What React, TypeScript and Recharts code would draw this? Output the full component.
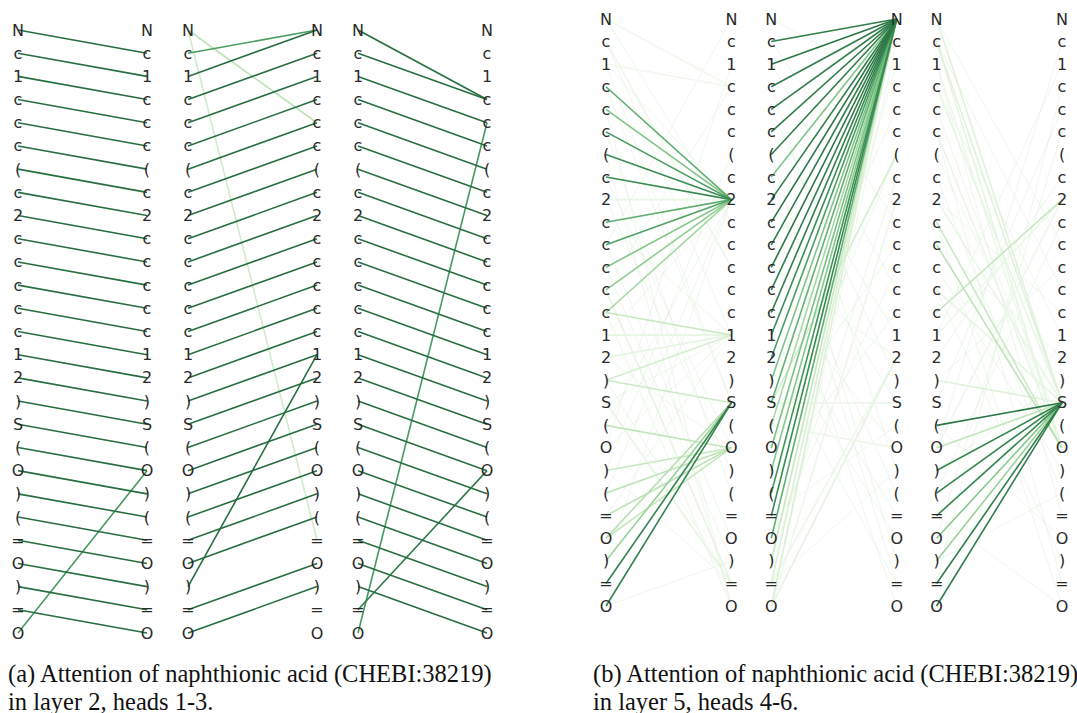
import React from 'react';
import { ScatterChart, Scatter, XAxis, YAxis, ReferenceLine } from 'recharts';

const tokens = ['N','c','1','c','c','c','(','c','2','c','c','c','c','c','1','2',')','S','(','O',')','(','=','O',')','=','O'];

// [fromIndex (left), toIndex (right), weight]
const head1Edges: number[][] = [
  [0,1,1],[1,2,1],[2,3,1],[3,4,1],[4,5,1],[5,6,1],[6,7,1],[7,8,1],[8,9,1],[9,10,1],[10,11,1],[11,12,1],[12,13,1],
  [13,14,1],[14,15,1],[15,16,1],[16,17,1],[17,18,1],[18,19,1],[19,20,1],[20,21,1],[21,22,1],[22,23,1],[23,24,1],
  [24,25,1],[25,26,1],[26,19,0.72],
];
const head2Edges: number[][] = [
  [0,4,0.3],[0,22,0.22],[1,0,0.7],[2,0,1],[3,1,1],[4,2,1],[5,3,1],[6,4,1],[7,5,1],[8,6,1],[9,7,1],[10,8,1],
  [11,9,1],[12,10,1],[13,11,1],[14,12,1],[15,13,1],[16,14,1],[17,15,1],[18,16,1],[19,17,1],[20,18,1],[21,19,1],
  [22,20,1],[23,21,1],[24,14,1],[25,23,1],[26,24,1],
];
const head3Edges: number[][] = [
  [0,3,1],[1,3,1],[2,4,1],[3,5,1],[4,6,1],[5,7,1],[6,8,1],[7,9,1],[8,10,1],[9,11,1],[10,12,1],[11,13,1],
  [12,14,1],[13,15,1],[14,16,1],[15,17,1],[16,18,1],[17,19,1],[18,20,1],[19,21,1],[20,22,1],[21,23,1],[22,24,1],
  [23,25,1],[24,26,1],[25,19,0.92],[26,4,0.72],
];
const head4Edges: number[][] = [
  [3,8,0.62],[4,8,0.5],[5,8,0.72],[6,8,0.8],[7,8,0.8],[8,8,0.1],[9,8,0.62],[10,8,0.68],[11,8,0.5],
  [12,8,0.45],[13,8,0.38],[13,14,0.26],[14,14,0.12],[15,14,0.12],[16,14,0.2],[16,17,0.24],
  [18,19,0.28],[20,19,0.26],[21,19,0.3],[22,19,0.3],[23,19,0.26],[23,17,0.32],[24,17,0.42],
  [25,17,0.86],[26,17,0.86],[12,25,0.12],[17,25,0.12],[1,11,0.08],[0,3,0.06],[2,3,0.06],[13,26,0.05],
];
const head4Faint: number[][] = [
  [0,9],[1,14],[2,8],[3,17],[5,21],[6,26],[7,19],[9,14],[10,23],[11,24],[14,8],[15,19],[16,25],[17,14],
  [18,8],[19,14],[20,25],[21,8],[22,14],[24,8],[26,24],[2,17],[4,26],[8,20],[10,0],[12,3],[19,2],[20,6],
];
const head5Edges: number[][] = [
  [1,0,0.9],[2,0,0.95],[3,0,0.9],[4,0,0.9],[5,0,0.9],[6,0,0.9],[7,0,0.5],[8,0,0.9],[9,0,0.95],[10,0,0.9],
  [11,0,0.95],[12,0,0.9],[13,0,0.9],[14,0,0.8],[15,0,0.7],[16,0,0.5],[17,0,0.6],[18,0,0.38],[19,0,0.52],
  [20,0,0.48],[21,0,0.75],[22,0,0.82],[23,0,0.62],[24,0,0.26],[25,0,0.18],[26,0,0.18],
  [17,6,0.2],[26,15,0.13],[25,15,0.08],[17,17,0.1],[18,19,0.08],[26,8,0.08],
];
const head5Faint: number[][] = [
  [0,3],[1,9],[2,12],[3,20],[5,14],[6,24],[8,17],[9,21],[10,26],[11,15],[12,19],[14,23],[15,25],
  [16,4],[18,10],[19,6],[20,13],[21,2],[22,18],[23,11],[24,7],[25,20],[26,1],[7,25],[4,16],[13,22],
];
const head6Edges: number[][] = [
  [18,17,0.95],[19,17,0.28],[20,17,0.85],[21,17,0.85],[22,17,0.85],[23,17,0.48],[24,17,0.42],[25,17,0.9],
  [26,17,0.9],[0,17,0.16],[1,17,0.16],[1,19,0.12],[3,17,0.11],[9,19,0.24],[10,19,0.3],[13,8,0.26],
  [14,8,0.08],[16,17,0.16],[19,8,0.08],[8,17,0.1],[5,19,0.1],[12,17,0.12],[2,19,0.08],
];
const head6Faint: number[][] = [
  [0,10],[1,12],[2,22],[3,14],[4,19],[5,25],[6,18],[7,21],[8,13],[9,26],[10,15],[11,20],[12,24],
  [14,2],[15,7],[16,11],[17,4],[18,23],[19,1],[20,16],[21,9],[22,26],[23,5],[24,21],[25,3],[26,14],
];

const captionA = ['(a) Attention of naphthionic acid (CHEBI:38219)', 'in layer 2, heads 1-3.'];
const captionB = ['(b) Attention of naphthionic acid (CHEBI:38219)', 'in layer 5, heads 4-6.'];

const STRIDE = 1.318;
const XMAX = 2 * STRIDE + 1;

const stops: [number, number[]][] = [
  [0, [250, 253, 249]],
  [0.15, [226, 243, 222]],
  [0.35, [176, 221, 170]],
  [0.55, [112, 188, 124]],
  [0.75, [62, 148, 88]],
  [1, [40, 110, 66]],
];
function color(w: number): string {
  for (let i = 1; i < stops.length; i++) {
    if (w <= stops[i][0]) {
      const [a, ca] = stops[i - 1];
      const [b, cb] = stops[i];
      const t = (w - a) / (b - a);
      const c = ca.map((v, k) => Math.round(v + (cb[k] - v) * t));
      return `rgb(${c[0]},${c[1]},${c[2]})`;
    }
  }
  return 'rgb(40,110,66)';
}

type Panel = { edges: number[][]; faint: number[][] };

function labelData() {
  const out: { x: number; y: number; t: string }[] = [];
  for (let h = 0; h < 3; h++) {
    for (let s = 0; s < 2; s++) {
      tokens.forEach((t, i) => out.push({ x: h * STRIDE + s, y: i, t }));
    }
  }
  return out;
}

const LabelShape = (props: any) => (
  <text
    x={props.cx}
    y={props.cy}
    textAnchor="middle"
    dominantBaseline="central"
    fontFamily="DejaVu Sans, sans-serif"
    fontSize={16}
    fill="#2a2a2a"
  >
    {props.payload.t}
  </text>
);

function AttnChart({ heads, width, height, margin }: { heads: Panel[]; width: number; height: number; margin: any }) {
  const data = labelData();
  const lines: React.ReactNode[] = [];
  heads.forEach((hd, h) => {
    const x0 = h * STRIDE;
    hd.faint.forEach(([a, b], k) =>
      lines.push(
        <ReferenceLine
          key={`f${h}-${k}`}
          segment={[{ x: x0, y: a }, { x: x0 + 1, y: b }]}
          stroke="rgb(200,230,196)"
          strokeOpacity={0.3}
          strokeWidth={1}
          ifOverflow="visible"
        />
      )
    );
    const sorted = [...hd.edges].sort((p, q) => p[2] - q[2]);
    sorted.forEach(([a, b, w], k) =>
      lines.push(
        <ReferenceLine
          key={`e${h}-${k}`}
          segment={[{ x: x0, y: a }, { x: x0 + 1, y: b }]}
          stroke={color(w)}
          strokeWidth={1.6}
          ifOverflow="visible"
        />
      )
    );
  });
  return (
    <ScatterChart width={width} height={height} margin={margin}>
      <XAxis type="number" dataKey="x" domain={[0, XMAX]} hide />
      <YAxis type="number" dataKey="y" domain={[0, 26]} reversed hide />
      <Scatter data={data} shape={LabelShape} isAnimationActive={false} />
      {lines}
    </ScatterChart>
  );
}

const capStyle: React.CSSProperties = {
  position: 'absolute',
  fontFamily: 'Liberation Serif, serif',
  fontSize: 24.5,
  lineHeight: '28px',
  color: '#111',
  whiteSpace: 'nowrap',
};

export default function App() {
  return (
    <div style={{ position: 'fixed', left: 0, top: 0, width: 1077, height: 713, background: '#fff', overflow: 'hidden' }}>
      <div style={{ position: 'absolute', left: 0, top: 0 }}>
        <AttnChart
          heads={[
            { edges: head1Edges, faint: [] },
            { edges: head2Edges, faint: [] },
            { edges: head3Edges, faint: [] },
          ]}
          width={520}
          height={660}
          margin={{ top: 30, bottom: 27, left: 18, right: 33 }}
        />
      </div>
      <div style={{ position: 'absolute', left: 570, top: 0 }}>
        <AttnChart
          heads={[
            { edges: head4Edges, faint: head4Faint },
            { edges: head5Edges, faint: head5Faint },
            { edges: head6Edges, faint: head6Faint },
          ]}
          width={507}
          height={640}
          margin={{ top: 19, bottom: 34, left: 36, right: 15 }}
        />
      </div>
      <div style={{ ...capStyle, left: 8, top: 660 }}>
        {captionA[0]}
        <br />
        {captionA[1]}
      </div>
      <div style={{ ...capStyle, left: 593, top: 660 }}>
        {captionB[0]}
        <br />
        {captionB[1]}
      </div>
    </div>
  );
}
